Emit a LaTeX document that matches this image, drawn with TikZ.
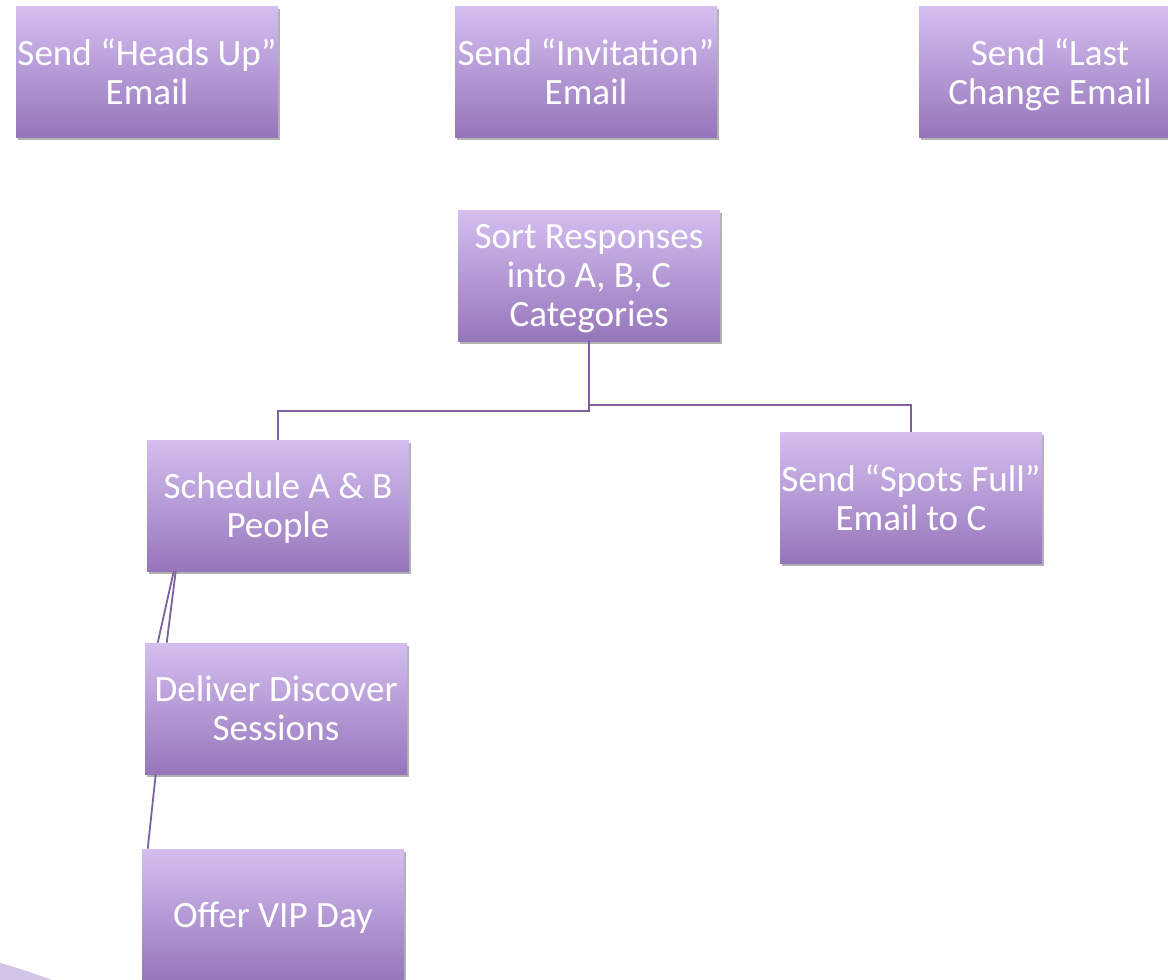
\documentclass[tikz,border=0pt]{standalone}
\usepackage{fontspec}
\setmainfont{Carlito}
\usetikzlibrary{shadows}
\definecolor{boxtop}{RGB}{212,191,240}
\definecolor{boxbot}{RGB}{150,118,187}
\definecolor{linkc}{RGB}{126,98,160}
\definecolor{swoosh}{RGB}{210,196,230}

\begin{document}
\begin{tikzpicture}[
		procbox/.style={rectangle, top color=boxtop, bottom color=boxbot, draw=none,
			minimum width=6.55cm, minimum height=3.275cm, inner sep=0pt, align=center,
			text=white, text depth=0pt, font=\fontsize{26.4}{27.8}\selectfont,
			drop shadow={shadow xshift=0.06cm, shadow yshift=-0.08cm, opacity=0.3, fill=black}},
		link/.style={draw=linkc, line width=1.3pt}
	]
		\clip (0,0) rectangle (29.2,-24.5);
		\fill[swoosh] (0,-24.07) .. controls (0.45,-24.2) and (0.9,-24.35) .. (1.3,-24.5) -- (0,-24.5) -- cycle;
		
		\node[procbox] (n1) at (3.675,-1.7875) {Send “Heads Up”\\Email};
		\node[procbox] (n2) at (14.65,-1.7875) {Send “Invitation”\\Email};
		\node[procbox] (n3) at (26.25,-1.7875) {Send “Last\\Change Email};
		\node[procbox] (n4) at (14.725,-6.8875) {Sort Responses\\into A, B, C\\Categories};
		\node[procbox] (n5) at (6.95,-12.6375) {Schedule A \& B\\People};
		\node[procbox] (n6) at (22.775,-12.4375) {Send “Spots Full”\\Email to C};
		\node[procbox] (n7) at (6.9,-17.7125) {Deliver Discover\\Sessions};
		\node[procbox] (n8) at (6.825,-22.8625) {Offer VIP Day};
		
		\draw[link] (n4.south) -- ++(0,-1.75) -| (n5.north);
		\draw[link] (n4.south) -- ++(0,-1.6) -| (n6.north);
		\draw[link] ([xshift=0.675cm]n5.south west) -- ([xshift=0.325cm]n7.north west);
		\draw[link] ([xshift=0.725cm]n5.south west) -- ([xshift=0.55cm]n7.north west);
		\draw[link] ([xshift=0.275cm]n7.south west) -- ([xshift=0.15cm]n8.north west);
		
		\end{tikzpicture}
\end{document}
